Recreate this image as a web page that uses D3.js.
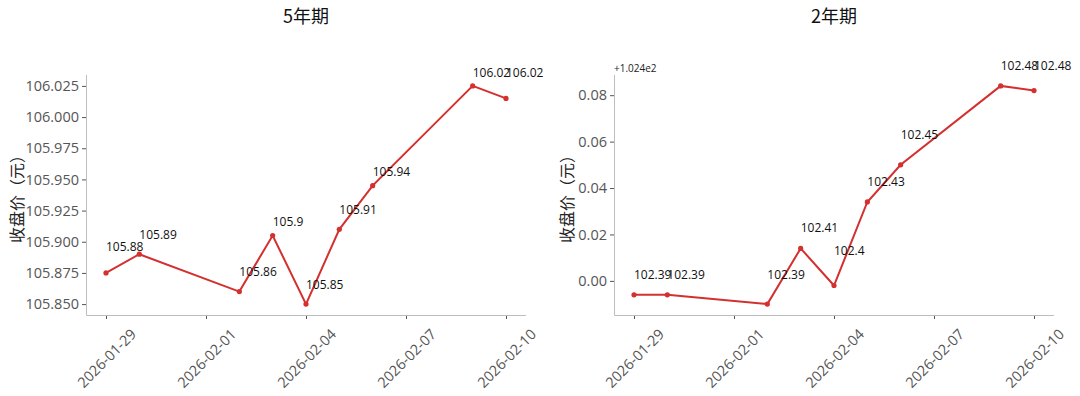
<!DOCTYPE html>
<html>
<head>
<meta charset="utf-8">
<script src="https://cdn.jsdelivr.net/npm/d3@7"></script>
<style>
  html, body { margin: 0; padding: 0; background: #fff; }
  svg { display: block; font-family: "Open Sans", "Noto Sans CJK SC", sans-serif; }
  .spine { stroke: #bdbdbd; stroke-width: 1; fill: none; }
  .tick line { stroke: #555; }
  .tick text { fill: #555; font-size: 14.5px; font-family: "Open Sans", sans-serif; }
  .dataline { fill: none; stroke: #d3302f; stroke-width: 2; }
  .dot { fill: #d3302f; }
  .vlabel { fill: #111; font-size: 12px; }
</style>
</head>
<body>
<div id="chart"></div>
<script>
// data
const dates = ['2026-01-29', '2026-01-30', '2026-02-02', '2026-02-03', '2026-02-04',
               '2026-02-05', '2026-02-06', '2026-02-09', '2026-02-10'];
const close5y = [105.875, 105.890, 105.860, 105.905, 105.850, 105.910, 105.945, 106.025, 106.015];
const labels5y = [105.88, 105.89, 105.86, 105.9, 105.85, 105.91, 105.94, 106.02, 106.02];
const close2y = [102.394, 102.394, 102.390, 102.414, 102.398, 102.434, 102.450, 102.484, 102.482];
const labels2y = [102.39, 102.39, 102.39, 102.41, 102.4, 102.43, 102.45, 102.48, 102.48];
const xTickLabels = ['2026-01-29', '2026-02-01', '2026-02-04', '2026-02-07', '2026-02-10'];
const ticks5y = [105.850, 105.875, 105.900, 105.925, 105.950, 105.975, 106.000, 106.025];
const ticks2y = [0.00, 0.02, 0.04, 0.06, 0.08];
const offset2y = 102.4;

const width = 1080;
const height = 396;
const parseDate = d3.utcParse('%Y-%m-%d');

const svg = d3.select('#chart')
              .append('svg')
              .attr('width', width)
              .attr('height', height);

function panel(opts) {
  const { left, right, top, bottom, title, values, labels, ticks, fmt, base, labelLift, ylabelX } = opts;
  const pts = dates.map((d, i) => ({ x: parseDate(d), y: values[i] - base, label: labels[i] - base, text: String(labels[i]) }));

  // matplotlib-style 5% margins
  const xExt = d3.extent(pts, (d) => d.x);
  const xPad = (xExt[1] - xExt[0]) * 0.05;
  const x = d3.scaleUtc()
              .domain([new Date(+xExt[0] - xPad), new Date(+xExt[1] + xPad)])
              .range([left, right]);
  const yExt = d3.extent(pts, (d) => d.y);
  const yPad = (yExt[1] - yExt[0]) * 0.05;
  const y = d3.scaleLinear()
              .domain([yExt[0] - yPad, yExt[1] + yPad])
              .range([bottom, top]);

  // title
  svg.append('text')
     .attr('x', (left + right) / 2)
     .attr('y', 23)
     .attr('text-anchor', 'middle')
     .style('font-family', '"Noto Sans CJK SC", sans-serif')
     .style('font-size', '18px')
     .style('fill', '#111')
     .text(title);

  // y axis
  const yAxis = d3.axisLeft(y)
                  .tickValues(ticks)
                  .tickSize(4)
                  .tickPadding(3)
                  .tickFormat(fmt);
  const gy = svg.append('g')
                .attr('transform', `translate(${left}, 0)`)
                .call(yAxis);
  gy.select('.domain').remove();

  // x axis
  const xAxis = d3.axisBottom(x)
                  .tickValues(xTickLabels.map(parseDate))
                  .tickSize(4)
                  .tickFormat(d3.utcFormat('%Y-%m-%d'));
  const gx = svg.append('g')
                .attr('transform', `translate(0, ${bottom})`)
                .call(xAxis);
  gx.select('.domain').remove();
  gx.selectAll('.tick text')
    .attr('y', 0)
    .attr('dy', null)
    .attr('text-anchor', 'middle')
    .attr('dominant-baseline', 'central')
    .each(function () {
      const w = this.getComputedTextLength();
      const h = 15;
      const half = (w + h) * Math.SQRT1_2 / 2;
      d3.select(this).attr('transform', `translate(0, ${11 + half}) rotate(-45)`);
    });

  // spines
  svg.append('path')
     .attr('class', 'spine')
     .attr('d', `M${left + 0.5},${top}V${bottom + 0.5}H${right}`);

  // y label
  svg.append('text')
     .attr('transform', `translate(${ylabelX}, ${(top + bottom) / 2}) rotate(-90)`)
     .attr('text-anchor', 'middle')
     .attr('dominant-baseline', 'central')
     .style('font-family', '"Noto Sans CJK SC", sans-serif')
     .style('font-size', '16px')
     .style('fill', '#222')
     .text('收盘价（元）');

  if (base) {
    svg.append('text')
       .attr('x', left)
       .attr('y', top - 7)
       .attr('dominant-baseline', 'central')
       .style('font-size', '10px')
       .style('fill', '#222')
       .text('+1.024e2');
  }

  // line + points
  const line = d3.line()
                 .x((d) => x(d.x))
                 .y((d) => y(d.y));
  svg.append('path')
     .attr('class', 'dataline')
     .attr('d', line(pts));
  svg.selectAll(null)
     .data(pts)
     .enter()
     .append('circle')
     .attr('class', 'dot')
     .attr('cx', (d) => x(d.x))
     .attr('cy', (d) => y(d.y))
     .attr('r', 2.6);

  // value labels at the rounded value, lifted a bit
  svg.selectAll(null)
     .data(pts)
     .enter()
     .append('text')
     .attr('class', 'vlabel')
     .attr('x', (d) => x(d.x))
     .attr('y', (d) => y(d.label) - labelLift)
     .attr('dominant-baseline', 'central')
     .text((d) => d.text);
}

panel({
  left: 86, right: 526, top: 75, bottom: 315,
  title: '5年期', values: close5y, labels: labels5y, ticks: ticks5y,
  fmt: d3.format('.3f'), base: 0, labelLift: 20, ylabelX: 16
});

panel({
  left: 614, right: 1054, top: 75, bottom: 315,
  title: '2年期', values: close2y, labels: labels2y, ticks: ticks2y,
  fmt: d3.format('.2f'), base: offset2y, labelLift: 30, ylabelX: 566
});
</script>
</body>
</html>
